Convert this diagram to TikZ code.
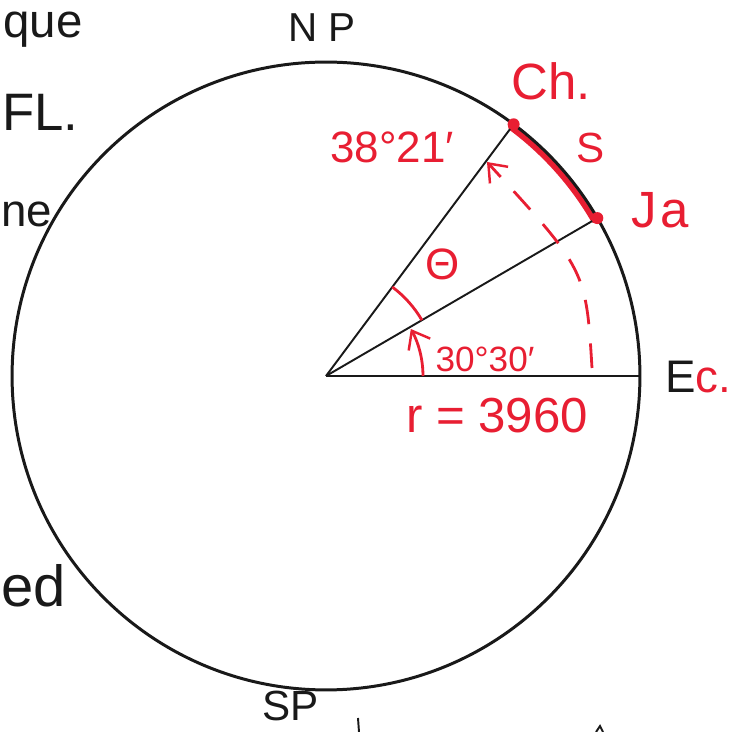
\documentclass[tikz,border=0pt]{standalone}
\usepackage{fontspec}
\setmainfont{Liberation Sans}
\usetikzlibrary{arrows.meta}
\definecolor{ink}{RGB}{25,25,25}
\definecolor{pen}{RGB}{232,30,50}
\begin{document}
\begin{tikzpicture}[x=0.02cm,y=-0.02cm,
  blkline/.style={draw=ink,line width=1.1pt},
  redline/.style={draw=pen,line width=1.6pt},
  redtip/.style={-{Straight Barb[length=9pt,width=14pt,line width=1.4pt]}},
  redtxt/.style={text=pen,inner sep=0pt,anchor=base},
  blktxt/.style={text=ink,inner sep=0pt,anchor=base},
  fs/.style={font=\fontsize{#1}{#1}\selectfont}]
\useasboundingbox (0,0) rectangle (744,732);
\coordinate (o) at (326,376);
\coordinate (ch) at ([shift={(53.3:6.28cm)}]o);
\coordinate (ja) at ([shift={(30.2:6.28cm)}]o);
\coordinate (ec) at ([shift={(0:6.28cm)}]o);
% red arc S
\draw[draw=pen,line width=3.4pt,line cap=round] ([shift={(53.3:6.2cm)}]o) arc[start angle=53.3,end angle=30.2,radius=6.2cm];
% earth circle
\draw[draw=ink,line width=1.7pt] (o) circle[radius=6.28cm];
% radii
\draw[blkline] (o) -- (ch);
\draw[blkline] (o) -- (ja);
\draw[blkline] (o) -- (ec);
% end dots
\fill[pen] (ch) circle[radius=0.12cm];
\fill[pen] (ja) circle[radius=0.12cm];
% theta arc
\draw[redline] ([shift={(30.2:2.22cm)}]o) arc[start angle=30.2,end angle=53.3,radius=2.22cm];
% 30 30 arrow
\draw[redline,redtip] ([shift={(0:1.94cm)}]o) arc[start angle=0,end angle=29,radius=1.94cm];
% dashed arrow
\coordinate (d1) at (592,368);
\coordinate (d2) at (487,162);
\draw[redline,dash pattern=on 14pt off 11pt,redtip] (d1) .. controls (586,270) .. (d2);
% labels
\node[blktxt,fs=23] (np) at (322,42) {N\hspace{6pt}P};
\node[redtxt,fs=29] (chl) at (551,100) {Ch.};
\node[redtxt,fs=25] (ang1) at (392,163) {38°21′};
\node[redtxt,fs=24] (sl) at (591,163) {S};
\node[redtxt,fs=29] (jal) at (660,228) {J\hspace{2pt}a};
\node[redtxt,fs=25] (th) at (443,280) {Θ};
\node[redtxt,fs=20] (ang2) at (485,372) {30°30′};
\node[redtxt,fs=28] (rl) at (497,433) {r = 3960};
\node[blktxt,fs=26] (ecl) at (698,393) {E\textcolor{pen}{c.}};
% page fragments
\node[blktxt,anchor=base west,fs=27] (f1) at (3,38) {que};
\node[blktxt,anchor=base west,fs=30] (f2) at (2,131) {FL.};
\node[blktxt,anchor=base west,fs=26] (f3) at (1,227) {ne};
\node[blktxt,anchor=base west,fs=33] (f4) at (1,607) {ed};
\node[blktxt,anchor=base west,fs=24] (f5) at (262,721) {SP};
\draw[blkline] (358,718) -- (359,732);
\draw[blkline] (596,732) -- (600,726) -- (603,732);
\end{tikzpicture}
\end{document}
